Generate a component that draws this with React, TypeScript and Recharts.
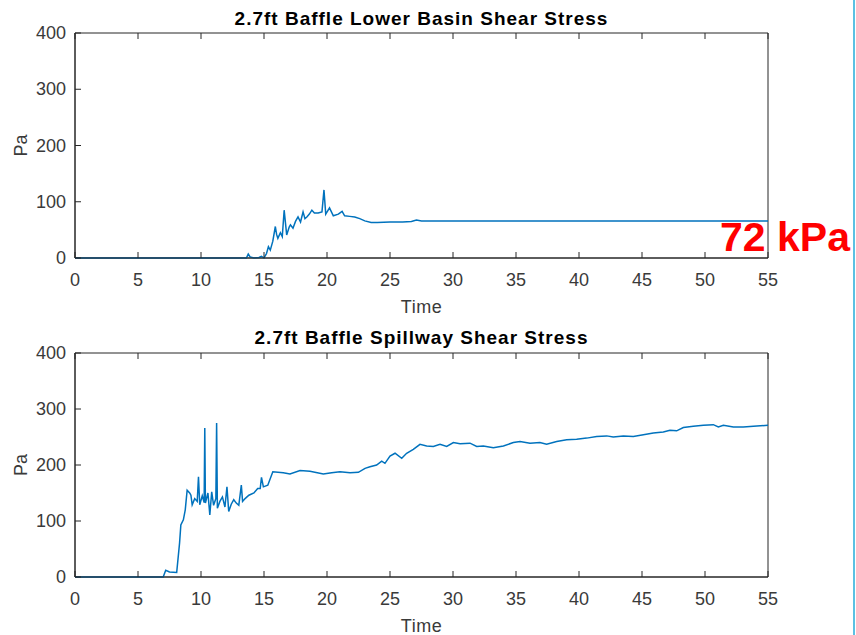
import { Line, LineChart, ReferenceArea, XAxis, YAxis } from "recharts";

const basinTime = [
  0, 13.6, 13.75, 13.9, 14.2, 14.6, 14.8, 15.0, 15.2, 15.35, 15.5, 15.7, 15.9, 16.0, 16.1, 16.3, 16.45, 16.6, 16.8,
  17.0, 17.1, 17.3, 17.5, 17.7, 17.9, 18.1, 18.25, 18.4, 18.6, 18.8, 19.0, 19.3, 19.6, 19.76, 19.9, 20.2, 20.5,
  20.9, 21.2, 21.4, 21.8, 22.2, 22.6, 23.0, 23.5, 24.0, 25, 26, 26.7, 27.1, 27.5, 30, 35, 40, 45, 50, 55,
];
const basinPa = [
  0, 0, 7, 2, 0, 1, 3, 0, 8, 20, 14, 30, 56, 42, 35, 45, 38, 85, 41,
  55, 59, 53, 65, 73, 64, 82, 70, 73, 78, 85, 80, 80, 82, 121, 78, 89, 75,
  78, 83, 75, 74, 73, 70, 66, 63, 63, 64, 64, 65, 67.5, 66, 66, 66, 66, 66, 66, 66,
];

const spillTime = [
  0, 7.0, 7.2, 7.5, 8.07, 8.3, 8.4, 8.6, 8.75, 8.9, 9.1, 9.2, 9.3, 9.5, 9.7, 9.8, 9.9, 10.1, 10.25, 10.3, 10.35,
  10.55, 10.7, 10.85, 11.0, 11.18, 11.24, 11.3, 11.5, 11.7, 11.9, 12.06, 12.2, 12.4, 12.6, 12.8, 13.0, 13.2, 13.3,
  13.5, 13.8, 14.2, 14.5, 14.7, 14.8, 14.95, 15.3, 15.7, 16.53, 17.06, 17.86, 18.65, 19.71, 20.37, 21.03, 21.83,
  22.49, 23.02, 23.41, 23.94, 24.34, 24.6, 25.0, 25.4, 25.93, 26.32, 26.85, 27.38, 27.91, 28.44, 28.97, 29.5,
  30.03, 30.56, 31.35, 31.88, 32.41, 33.2, 34.0, 34.79, 35.32, 36.11, 36.9, 37.43, 38.23, 39.02, 39.81, 40.61,
  41.4, 42.2, 42.72, 43.52, 44.31, 45.11, 45.9, 46.69, 47.22, 47.75, 48.28, 49.07, 49.87, 50.66, 51.06, 51.46,
  52.25, 53.04, 53.84, 55,
];
const spillPa = [
  0, 0, 12, 9, 8, 61, 93, 102, 120, 155, 150, 146, 129, 140, 135, 179, 129, 145, 133, 266, 132,
  150, 111, 152, 128, 140, 275, 123, 135, 143, 125, 161, 117, 130, 138, 132, 128, 164, 135,
  140, 146, 150, 158, 158, 178, 161, 164, 188, 186, 184, 190, 189, 184, 186, 188, 186,
  187, 194, 197, 200, 207, 203, 216, 221, 212, 221, 228, 237, 234, 233, 237, 233,
  240, 238, 239, 233, 234, 231, 234, 240, 242, 239, 240, 237, 242, 245, 246, 248,
  251, 252, 250, 252, 251, 254, 257, 259, 262, 261, 267, 269, 271, 272, 268, 271,
  268, 268, 269, 271,
];

const timeTicks = [0, 5, 10, 15, 20, 25, 30, 35, 40, 45, 50, 55];
const paTicks = [0, 100, 200, 300, 400];

const basinData = basinTime.map((t, i) => ({ t, pa: basinPa[i] }));
const spillData = spillTime.map((t, i) => ({ t, pa: spillPa[i] }));

const AXIS = "#262626";
const LABEL = "#3a3a3a";
const FONT = "'Liberation Sans', Arial, Helvetica, sans-serif";
const TICK = 6;

const BottomTick = (props: any) => {
  const { x, y, payload } = props;
  return (
    <g>
      <line x1={x} x2={x} y1={y} y2={y - TICK} stroke={AXIS} />
      <text x={x} y={y + 28} textAnchor="middle" fontFamily={FONT} fontSize={18} fill={LABEL}>
        {payload.value}
      </text>
    </g>
  );
};

const TopTick = (props: any) => {
  const { x, y } = props;
  return <line x1={x} x2={x} y1={y} y2={y + TICK} stroke={AXIS} />;
};

const LeftTick = (props: any) => {
  const { x, y, payload } = props;
  return (
    <g>
      <line x1={x} x2={x + TICK} y1={y} y2={y} stroke={AXIS} />
      <text x={x - 9} y={y + 6} textAnchor="end" fontFamily={FONT} fontSize={18} fill={LABEL}>
        {payload.value}
      </text>
    </g>
  );
};

const RightTick = (props: any) => {
  const { x, y } = props;
  return <line x1={x} x2={x - TICK} y1={y} y2={y} stroke={AXIS} />;
};

function Panel({ data, height, top, bottomAxis }: { data: any[]; height: number; top: number; bottomAxis: number }) {
  return (
    <LineChart width={856} height={height} data={data} margin={{ top: top - 1, right: 87, left: 0, bottom: 0 }}>
      <XAxis
        dataKey="t"
        type="number"
        domain={[0, 55]}
        ticks={timeTicks}
        interval={0}
        height={bottomAxis}
        tickSize={0}
        tickMargin={0}
        tick={<BottomTick />}
        axisLine={{ stroke: AXIS }}
      />
      <XAxis
        xAxisId="top"
        orientation="top"
        dataKey="t"
        type="number"
        domain={[0, 55]}
        ticks={timeTicks}
        interval={0}
        height={1}
        tickSize={0}
        tickMargin={0}
        tick={<TopTick />}
        axisLine={false}
      />
      <YAxis
        type="number"
        domain={[0, 400]}
        ticks={paTicks}
        interval={0}
        width={75}
        tickSize={0}
        tickMargin={0}
        tick={<LeftTick />}
        axisLine={{ stroke: AXIS }}
      />
      <YAxis
        yAxisId="right"
        orientation="right"
        type="number"
        domain={[0, 400]}
        ticks={paTicks}
        interval={0}
        width={1}
        tickSize={0}
        tickMargin={0}
        tick={<RightTick />}
        axisLine={false}
      />
      <ReferenceArea x1={0} x2={55} y1={0} y2={400} fill="none" stroke={AXIS} strokeWidth={1} ifOverflow="visible" />
      <Line
        type="linear"
        dataKey="pa"
        stroke="#0072BD"
        strokeWidth={1.5}
        dot={false}
        isAnimationActive={false}
      />
    </LineChart>
  );
}

export default function App() {
  return (
    <div style={{ position: "absolute", left: 0, top: 0, width: 856, height: 635, background: "#fff", overflow: "hidden" }}>
      <div style={{ position: "absolute", left: 0, top: 0 }}>
        <Panel data={basinData} height={317} top={33} bottomAxis={59} />
      </div>
      <div style={{ position: "absolute", left: 0, top: 317 }}>
        <Panel data={spillData} height={318} top={36} bottomAxis={58} />
      </div>
      <svg width={856} height={635} style={{ position: "absolute", left: 0, top: 0, pointerEvents: "none" }}>
        <g fontFamily={FONT}>
          <text x={421.5} y={25} textAnchor="middle" fontSize={19} fontWeight="bold" letterSpacing={1} fill="#000">
            2.7ft Baffle Lower Basin Shear Stress
          </text>
          <text x={421.5} y={313} textAnchor="middle" fontSize={18} letterSpacing={0.5} fill={LABEL}>
            Time
          </text>
          <text x={27} y={145.5} textAnchor="middle" fontSize={18} fill={LABEL} transform="rotate(-90 27 145.5)">
            Pa
          </text>
          <text x={421.5} y={344} textAnchor="middle" fontSize={19} fontWeight="bold" letterSpacing={1} fill="#000">
            2.7ft Baffle Spillway Shear Stress
          </text>
          <text x={421.5} y={632} textAnchor="middle" fontSize={18} letterSpacing={0.5} fill={LABEL}>
            Time
          </text>
          <text x={27} y={465} textAnchor="middle" fontSize={18} fill={LABEL} transform="rotate(-90 27 465)">
            Pa
          </text>
          <text x={720} y={251} fontSize={41} fontWeight="bold" fill="#ff0000">
            72 kPa
          </text>
        </g>
      </svg>
      <div style={{ position: "absolute", left: 853, top: 0, width: 2, height: 635, background: "#5BC0E3" }} />
    </div>
  );
}
